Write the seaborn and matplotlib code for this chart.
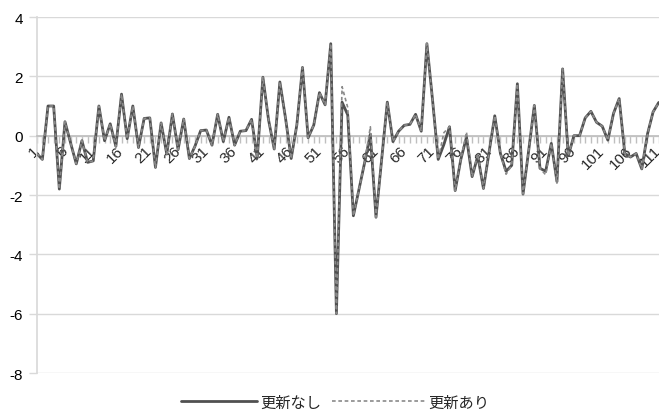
import numpy as np
import pandas as pd
import matplotlib
matplotlib.use("Agg")
import matplotlib.pyplot as plt
import seaborn as sns

# ---- data ----
idx = list(range(1, 112))
nashi = [-0.6, -0.8, 1.0, 1.0, -1.8, 0.47, -0.25, -0.95, -0.17, -0.9,
         -0.85, 1.0, -0.17, 0.4, -0.36, 1.4, -0.1, 1.0, -0.4, 0.58,
         0.6, -1.07, 0.43, -0.62, 0.73, -0.47, 0.56, -0.77, -0.35, 0.17,
         0.19, -0.32, 0.72, -0.2, 0.62, -0.32, 0.15, 0.17, 0.55, -0.75,
         1.97, 0.53, -0.45, 1.81, 0.59, -0.77, 0.36, 2.3, -0.07, 0.36,
         1.45, 1.04, 3.1, -6.0, 1.13, 0.7, -2.7, -1.8, -0.9, 0.05,
         -2.75, -0.8, 1.13, -0.2, 0.15, 0.35, 0.38, 0.72, 0.15, 3.1,
         1.2, -0.8, -0.3, 0.3, -1.85, -0.8, -0.05, -1.38, -0.68, -1.78,
         -0.55, 0.67, -0.6, -1.2, -1.0, 1.75, -1.97, -0.5, 1.02, -1.1,
         -1.2, -0.26, -1.55, 2.25, -0.68, 0.0, 0.0, 0.6, 0.82, 0.45,
         0.32, -0.15, 0.75, 1.25, -0.6, -0.72, -0.6, -1.12, 0.05, 0.8,
         1.12]
ari = list(nashi)
ari_diff = {55: 1.65, 56: 0.95, 60: 0.3, 73: 0.1, 77: 0.12, 79: -0.62,
            84: -1.3, 91: -1.32, 93: -1.6}
for k, v in ari_diff.items():
    ari[k - 1] = v

series_names = ["更新なし", "更新あり"]
ytick_vals = [4, 2, 0, -2, -4, -6, -8]
xlabel_vals = list(range(1, 112, 5))

df = pd.DataFrame({"x": idx * 2,
                   "y": nashi + ari,
                   "s": [series_names[0]] * len(idx) + [series_names[1]] * len(idx)})

sns.set_theme(style="white")
plt.rcParams['font.family'] = ['Liberation Sans', 'Noto Sans CJK JP', 'DejaVu Sans']

fig = plt.figure(figsize=(6.59, 4.14), dpi=100)
ax = fig.add_axes([36.7 / 659, 40 / 414, (658.75 - 36.7) / 659, 356 / 414])

sns.lineplot(data=df[df.s == series_names[0]], x="x", y="y", ax=ax,
             color="#505050", linewidth=2.0, label=series_names[0], zorder=3)
sns.lineplot(data=df[df.s == series_names[1]], x="x", y="y", ax=ax,
             color="#8a8a8a", linewidth=1.2, label=series_names[1],
             dashes=False, zorder=4)
solid_line, dash_line = ax.lines[0], ax.lines[1]
dash_line.set_dashes([2.2, 1.6])

# spines first (set_position resets ticks)
ax.spines["bottom"].set_position(("data", 0))
ax.spines["bottom"].set_color("#bfbfbf")
ax.spines["left"].set_color("#d9d9d9")
for sp in ["top", "right"]:
    ax.spines[sp].set_visible(False)

ax.set_xlim(1, 111)
ax.set_ylim(-8, 4)
ax.set_yticks(ytick_vals)
ax.set_yticklabels([str(v) for v in ytick_vals], fontsize=11, color="#000000")
ax.yaxis.grid(True, color="#d9d9d9", linewidth=1.0)
ax.xaxis.grid(False)
ax.tick_params(axis="y", length=6, color="#d9d9d9", width=1, pad=4, left=True)

ax.set_xticks(idx)
ax.set_xticklabels([str(i) if i in xlabel_vals else "" for i in idx], fontsize=11)
ax.tick_params(axis="x", length=5, color="#bfbfbf", width=1, direction="out",
               pad=4, bottom=True, labelrotation=45)
for lab in ax.get_xticklabels():
    lab.set_ha("right")
    lab.set_va("center")
    lab.set_rotation_mode("anchor")

ax.set_xlabel("")
ax.set_ylabel("")
if ax.get_legend() is not None:
    ax.get_legend().remove()

prop = {"family": ["Noto Sans CJK JP"], "size": 11}
leg1 = fig.legend([solid_line], [series_names[0]], loc="center left",
                  bbox_to_anchor=(167 / 659, 11 / 414), frameon=False,
                  handlelength=5.0, handletextpad=0.2, prop=prop)
leg2 = fig.legend([dash_line], [series_names[1]], loc="center left",
                  bbox_to_anchor=(318 / 659, 11 / 414), frameon=False,
                  handlelength=6.1, handletextpad=0.2, prop=prop)
leg2.get_lines()[0].set_dashes([2.2, 1.6])

fig.savefig("out.png", dpi=100)
